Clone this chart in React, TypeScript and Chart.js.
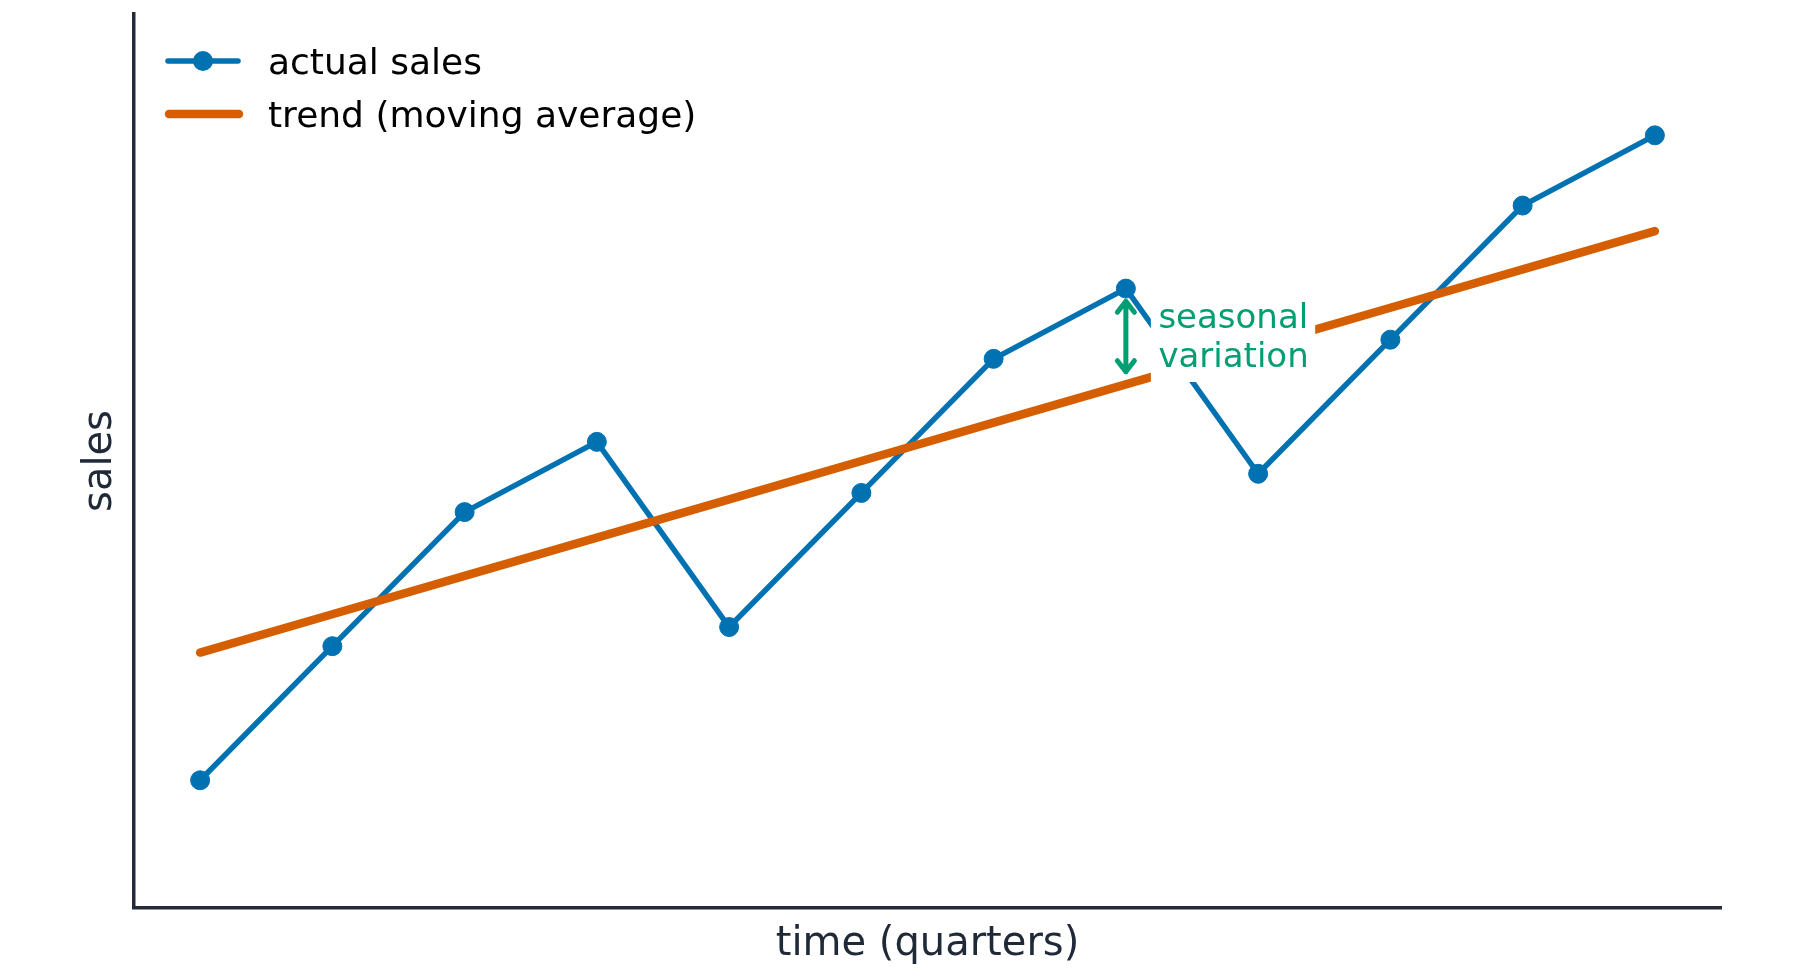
import React, { useEffect, useRef } from "react";
import { Chart, registerables } from "chart.js";

Chart.register(...registerables);

// ---- data ----
const quarters = [0, 1, 2, 3, 4, 5, 6, 7, 8, 9, 10, 11];
const actualSales = [4, 8.2, 12.4, 14.6, 8.8, 13, 17.2, 19.4, 13.6, 17.8, 22, 24.2];
const trendValues = [8, 9.2, 10.4, 11.6, 12.8, 14, 15.2, 16.4, 17.6, 18.8, 20, 21.2];
const seriesLabels = ["actual sales", "trend (moving average)"];
const xAxisTitle = "time (quarters)";
const yAxisTitle = "sales";
const annotationLines = ["seasonal", "variation"];
const annotationQuarter = 7;
const xRange = [-0.5, 11.5];
const yRange = [0, 28];

// ---- styles ----
const BLUE = "#0072B2";
const ORANGE = "#D55E00";
const GREEN = "#009E73";
const SPINE = "#232a38";
const LABEL = "#1f2937";
const FONT = '"DejaVu Sans", "Noto Sans", sans-serif';

const overlayPlugin = {
  id: "overlay",
  afterDatasetsDraw(chart: any) {
    const ctx = chart.ctx as CanvasRenderingContext2D;
    const xs = chart.scales.x;
    const ys = chart.scales.y;
    const i = quarters.indexOf(annotationQuarter);
    const px = xs.getPixelForValue(annotationQuarter);
    const yTop = ys.getPixelForValue(actualSales[i]);
    const yBot = ys.getPixelForValue(trendValues[i]);
    const shrink = 12.7;
    const a = yTop + shrink;
    const b = yBot - shrink;
    ctx.save();
    // double-headed arrow
    ctx.strokeStyle = GREEN;
    ctx.lineWidth = 5;
    ctx.lineCap = "round";
    ctx.lineJoin = "round";
    const hw = 8.5;
    const hl = 11;
    ctx.beginPath();
    ctx.moveTo(px, a);
    ctx.lineTo(px, b);
    ctx.moveTo(px - hw, a + hl);
    ctx.lineTo(px, a);
    ctx.lineTo(px + hw, a + hl);
    ctx.moveTo(px - hw, b - hl);
    ctx.lineTo(px, b);
    ctx.lineTo(px + hw, b - hl);
    ctx.stroke();

    // text with white box
    ctx.font = `34px ${FONT}`;
    const mid = (yTop + yBot) / 2;
    const tx = px + 32.5;
    const w = Math.max(...annotationLines.map((t) => ctx.measureText(t).width));
    ctx.fillStyle = "#ffffff";
    ctx.fillRect(tx - 7.5, mid - 47.5, w + 14, 93);
    ctx.fillStyle = GREEN;
    ctx.textAlign = "left";
    ctx.textBaseline = "alphabetic";
    ctx.fillText(annotationLines[0], tx, mid - 8.8);
    ctx.fillText(annotationLines[1], tx, mid + 30.2);
    ctx.restore();
  },
  afterDraw(chart: any) {
    const ctx = chart.ctx as CanvasRenderingContext2D;
    const area = chart.chartArea;
    ctx.save();
    // legend
    const lx1 = area.left + 31;
    const lx2 = area.left + 107;
    const row1 = area.top + 47;
    const row2 = area.top + 100;
    ctx.lineCap = "round";
    ctx.strokeStyle = BLUE;
    ctx.lineWidth = 5.5;
    ctx.beginPath();
    ctx.moveTo(lx1 + 3, row1);
    ctx.lineTo(lx2 - 3, row1);
    ctx.stroke();
    ctx.fillStyle = BLUE;
    ctx.beginPath();
    ctx.arc((lx1 + lx2) / 2, row1, 10, 0, Math.PI * 2);
    ctx.fill();
    ctx.strokeStyle = ORANGE;
    ctx.lineWidth = 8.5;
    ctx.beginPath();
    ctx.moveTo(lx1 + 4, row2);
    ctx.lineTo(lx2 - 2, row2);
    ctx.stroke();
    ctx.font = `36px ${FONT}`;
    ctx.fillStyle = "#000000";
    ctx.textAlign = "left";
    ctx.textBaseline = "alphabetic";
    ctx.fillText(seriesLabels[0], area.left + 134, row1 + 12.5);
    ctx.fillText(seriesLabels[1], area.left + 134, row2 + 12.5);

    // axis titles
    ctx.font = `40px ${FONT}`;
    ctx.fillStyle = LABEL;
    ctx.textAlign = "center";
    ctx.fillText(xAxisTitle, (area.left + area.right) / 2, area.bottom + 46.5);
    ctx.translate(area.left - 23.5, (area.top + area.bottom) / 2);
    ctx.rotate(-Math.PI / 2);
    ctx.fillText(yAxisTitle, 0, 0);
    ctx.restore();
  },
};

export default function App() {
  const canvasRef = useRef<HTMLCanvasElement | null>(null);

  useEffect(() => {
    document.body.style.margin = "0";
    const canvas = canvasRef.current;
    if (!canvas) return;
    const chart = new Chart(canvas, {
      type: "line",
      data: {
        datasets: [
          {
            label: seriesLabels[0],
            data: quarters.map((q, i) => ({ x: q, y: actualSales[i] })),
            borderColor: BLUE,
            backgroundColor: BLUE,
            borderWidth: 5.5,
            pointRadius: 9.5,
            pointBorderWidth: 1,
            pointBackgroundColor: BLUE,
            pointBorderColor: BLUE,
            borderJoinStyle: "round",
            borderCapStyle: "round",
            tension: 0,
            order: 2,
          },
          {
            label: seriesLabels[1],
            data: quarters.map((q, i) => ({ x: q, y: trendValues[i] })),
            borderColor: ORANGE,
            backgroundColor: ORANGE,
            borderWidth: 8.5,
            pointRadius: 0,
            borderJoinStyle: "round",
            borderCapStyle: "round",
            tension: 0,
            order: 1,
          },
        ],
      },
      options: {
        animation: false,
        responsive: false,
        maintainAspectRatio: false,
        devicePixelRatio: 1,
        layout: { padding: { left: 134, right: 79, top: 14, bottom: 70 } },
        plugins: {
          legend: { display: false },
          tooltip: { enabled: false },
        },
        scales: {
          x: {
            type: "linear",
            min: xRange[0],
            max: xRange[1],
            ticks: { display: false },
            grid: { display: false, drawTicks: false },
            border: { display: true, color: SPINE, width: 3.5 },
            afterFit: (s: any) => {
              s.height = 0;
            },
          },
          y: {
            type: "linear",
            min: yRange[0],
            max: yRange[1],
            ticks: { display: false },
            grid: { display: false, drawTicks: false },
            border: { display: true, color: SPINE, width: 3.5 },
            afterFit: (s: any) => {
              s.width = 0;
            },
          },
        },
      } as any,
      plugins: [overlayPlugin],
    });
    return () => chart.destroy();
  }, []);

  return (
    <div style={{ position: "fixed", left: 0, top: 0, width: 1800, height: 978, background: "#fff" }}>
      <canvas ref={canvasRef} width={1800} height={978} />
    </div>
  );
}
